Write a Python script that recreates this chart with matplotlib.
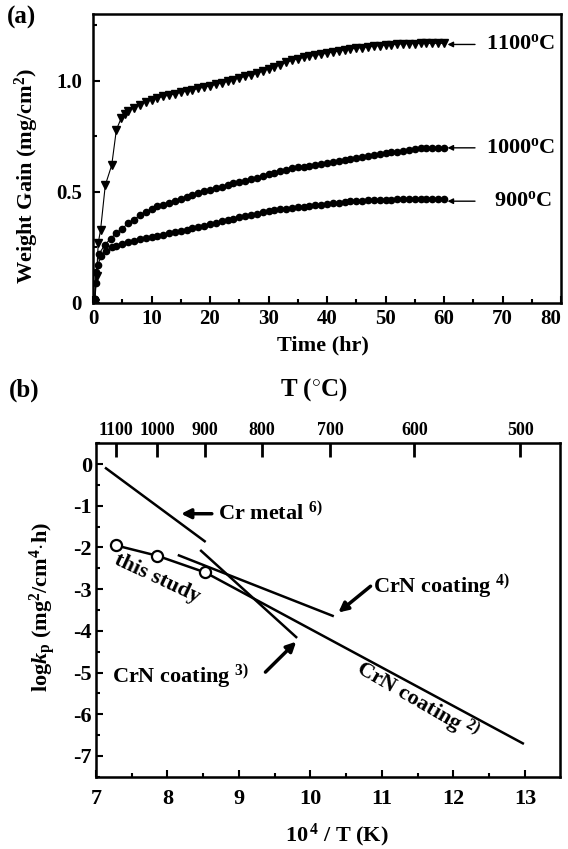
import matplotlib
matplotlib.use("Agg")
import matplotlib.pyplot as plt
from matplotlib.ticker import MultipleLocator, FixedLocator

plt.rcParams['font.family'] = ['Liberation Serif', 'DejaVu Serif']
plt.rcParams['font.weight'] = 'bold'
plt.rcParams['mathtext.fontset'] = 'custom'
plt.rcParams['mathtext.rm'] = 'Liberation Serif:bold'
plt.rcParams['mathtext.it'] = 'Liberation Serif:bold:italic'
plt.rcParams['mathtext.bf'] = 'Liberation Serif:bold'
plt.rcParams['axes.unicode_minus'] = False

# ---------------- Panel (a) data: weight gain vs time ----------------
t_1100 = [0.3, 0.6, 0.9, 1.3, 2.1, 3.2, 4.0, 4.8, 5.4,
          6, 7, 8, 9, 10, 11, 12, 13, 14, 15, 16, 17, 18, 19, 20,
          21, 22, 23, 24, 25, 26, 27, 28, 29, 30, 31, 32, 33, 34, 35,
          36, 37, 38, 39, 40, 41, 42, 43, 44, 45, 46, 47, 48, 49, 50,
          51, 52, 53, 54, 55, 56, 57, 58, 59, 60]
w_1100 = [0.00, 0.12, 0.27, 0.33, 0.53, 0.62, 0.78, 0.83, 0.85,
          0.865, 0.878, 0.892, 0.904, 0.914, 0.922, 0.929, 0.935, 0.941, 0.947,
          0.953, 0.959, 0.965, 0.971, 0.977, 0.983, 0.990, 0.997, 1.005, 1.013,
          1.019, 1.025, 1.033, 1.043, 1.054, 1.062, 1.072, 1.082, 1.091, 1.099,
          1.105, 1.110, 1.114, 1.119, 1.124, 1.129, 1.134, 1.139, 1.143, 1.146,
          1.149, 1.152, 1.155, 1.158, 1.160, 1.162, 1.164, 1.166, 1.167, 1.167,
          1.168, 1.168, 1.168, 1.168, 1.168]

t_1000 = [0.3, 0.5, 1.0, 2, 3, 4, 5, 6, 7, 8, 9, 10, 11, 12, 13, 14, 15,
          16, 17, 18, 19, 20, 21, 22, 23, 24, 25, 26, 27, 28, 29, 30, 31,
          32, 33, 34, 35, 36, 37, 38, 39, 40, 41, 42, 43, 44, 45, 46, 47,
          48, 49, 50, 51, 52, 53, 54, 55, 56, 57, 58, 59, 60]
w_1000 = [0.02, 0.14, 0.22, 0.26, 0.29, 0.315, 0.335, 0.358, 0.375, 0.395,
          0.410, 0.423, 0.435, 0.443, 0.451, 0.459, 0.468, 0.478, 0.487, 0.495,
          0.502, 0.509, 0.516, 0.524, 0.532, 0.538, 0.544, 0.550, 0.556, 0.563,
          0.571, 0.579, 0.587, 0.594, 0.600, 0.606, 0.610, 0.614, 0.618, 0.622,
          0.626, 0.630, 0.634, 0.638, 0.642, 0.646, 0.651, 0.655, 0.660, 0.664,
          0.668, 0.673, 0.677, 0.681, 0.685, 0.689, 0.692, 0.695, 0.697, 0.698,
          0.699, 0.699]

t_900 = [0.3, 0.5, 0.8, 1.4, 2.3, 3.2, 4, 5, 6, 7, 8, 9, 10, 11, 12, 13,
         14, 15, 16, 17, 18, 19, 20, 21, 22, 23, 24, 25, 26, 27, 28, 29, 30,
         31, 32, 33, 34, 35, 36, 37, 38, 39, 40, 41, 42, 43, 44, 45, 46, 47,
         48, 49, 50, 51, 52, 53, 54, 55, 56, 57, 58, 59, 60]
w_900 = [0.02, 0.09, 0.17, 0.21, 0.235, 0.25, 0.258, 0.266, 0.273, 0.280,
         0.287, 0.293, 0.298, 0.303, 0.308, 0.314, 0.320, 0.325, 0.330, 0.336,
         0.342, 0.348, 0.354, 0.360, 0.367, 0.373, 0.379, 0.385, 0.390, 0.396,
         0.402, 0.408, 0.413, 0.418, 0.422, 0.425, 0.428, 0.431, 0.434, 0.437,
         0.440, 0.443, 0.446, 0.449, 0.452, 0.455, 0.458, 0.460, 0.461, 0.462,
         0.463, 0.464, 0.465, 0.465, 0.466, 0.466, 0.466, 0.466, 0.466, 0.466,
         0.466, 0.466, 0.466]

a_labels = ["1100$^{\\mathrm{o}}$C", "1000$^{\\mathrm{o}}$C", "900$^{\\mathrm{o}}$C"]
a_label_y = [1.163, 0.698, 0.458]
a_xticks = [0, 10, 20, 30, 40, 50, 60, 70, 80]

# ---------------- Panel (b) data: Arrhenius plot ----------------
cr_metal_x = [7.14, 8.52]
cr_metal_y = [-0.10, -1.85]
study_x = [7.28, 7.86, 8.53]
study_y = [-1.95, -2.20, -2.60]
crn2_x = [8.53, 12.97]
crn2_y = [-2.60, -6.70]
crn3_x = [8.47, 9.80]
crn3_y = [-2.08, -4.15]
crn4_x = [8.16, 10.31]
crn4_y = [-2.19, -3.64]
top_T = [1100, 1000, 900, 800, 700, 600, 500]

W, H = 568, 849
fig = plt.figure(figsize=(W / 100, H / 100), dpi=100)

def box(l, t, r, b):
    return [l / W, 1 - b / H, (r - l) / W, (b - t) / H]

# ================= Panel (a) =================
ax1 = fig.add_axes(box(93, 14, 561, 303))
ax1.plot(t_1100, w_1100, color='k', lw=0.8, marker='v', ms=6, mfc='k', mec='k')
ax1.plot(t_1000, w_1000, color='k', lw=0.8, marker='o', ms=4.5, mfc='k', mec='k')
ax1.plot(t_900, w_900, color='k', lw=0.8, marker='o', ms=4.5, mfc='k', mec='k')
ax1.set_xlim(0, 80)
ax1.set_ylim(0, 1.3)
ax1.set_xticks(a_xticks)
ax1.set_xticklabels([str(v) for v in a_xticks])
ax1.xaxis.set_minor_locator(MultipleLocator(5))
ax1.set_yticks([0, 0.5, 1.0])
ax1.set_yticklabels(["0", "0.5", "1.0"])
ax1.yaxis.set_minor_locator(MultipleLocator(0.25))
ax1.tick_params(which='both', direction='in', width=1.5)
ax1.tick_params(which='major', length=5)
ax1.tick_params(which='minor', length=3)
ax1.tick_params(axis='x', labelsize=15, pad=4)
ax1.tick_params(axis='y', labelsize=15, pad=8)
ax1.get_xticklabels()[-1].set_horizontalalignment('right')
for sp in ax1.spines.values():
    sp.set_linewidth(1.8)

for lab, yv in zip(a_labels, a_label_y):
    ax1.annotate("", xy=(60.6, yv), xytext=(65.3, yv),
                 arrowprops=dict(arrowstyle='-|>', lw=1.0, color='k',
                                 mutation_scale=8, shrinkA=0, shrinkB=0))
    xt = 67.1 if not lab.startswith("900") else 68.6
    ax1.text(xt, yv, lab, fontsize=16, fontweight='bold', ha='left', va='center')

fig.text(22 / W, 1 - 17 / H, "(a)", fontsize=18, fontweight='bold', ha='center', va='center')
fig.text(27 / W, 1 - 176 / H, "Weight Gain (mg/cm$^{2}$)", fontsize=16,
         fontweight='bold', rotation=90, ha='center', va='center')
fig.text(323 / W, 1 - 345 / H, "Time (hr)", fontsize=16, fontweight='bold',
         ha='center', va='center')

# ================= Panel (b) =================
ax2 = fig.add_axes(box(96, 443.3, 560, 776.7))
ax2.plot(cr_metal_x, cr_metal_y, color='k', lw=1.8)
ax2.plot(crn2_x, crn2_y, color='k', lw=1.8)
ax2.plot(crn3_x, crn3_y, color='k', lw=1.8)
ax2.plot(crn4_x, crn4_y, color='k', lw=1.8)
ax2.plot(study_x, study_y, color='k', lw=1.8, marker='o', ms=8, mfc='white',
         mec='k', mew=1.6, zorder=5)
ax2.set_xlim(7, 13.49)
ax2.set_ylim(-7.5, 0.5)
ax2.xaxis.set_major_locator(MultipleLocator(1))
ax2.xaxis.set_minor_locator(MultipleLocator(0.5))
ax2.yaxis.set_major_locator(MultipleLocator(1))
ax2.yaxis.set_minor_locator(MultipleLocator(0.5))
ax2.tick_params(which='both', direction='in', width=1.5)
ax2.tick_params(which='major', length=5)
ax2.tick_params(which='minor', length=3)
ax2.tick_params(axis='x', labelsize=16, pad=9)
ax2.tick_params(axis='y', labelsize=16, pad=3)
for sp in ax2.spines.values():
    sp.set_linewidth(1.8)

axt = ax2.twiny()
axt.set_xlim(ax2.get_xlim())
axt.xaxis.set_major_locator(FixedLocator([1e4 / (T + 273.15) for T in top_T]))
axt.set_xticklabels([str(T) for T in top_T])
axt.xaxis.set_minor_locator(FixedLocator([]))
axt.tick_params(axis='x', direction='in', length=10, width=2, labelsize=13, pad=3)

# annotations
ax2.annotate("", xy=(8.19, -1.19), xytext=(8.62, -1.19),
             arrowprops=dict(arrowstyle='-|>', lw=2.5, color='k',
                             mutation_scale=14, shrinkA=0, shrinkB=0))
ax2.text(8.70, -1.19, "Cr metal $^{6)}$", fontsize=16, fontweight='bold',
         ha='left', va='center')

ax2.annotate("", xy=(10.39, -3.56), xytext=(10.84, -2.93),
             arrowprops=dict(arrowstyle='-|>', lw=2.5, color='k',
                             mutation_scale=14, shrinkA=0, shrinkB=0))
ax2.text(10.88, -2.96, "CrN coating $^{4)}$", fontsize=16, fontweight='bold',
         ha='left', va='center')

ax2.annotate("", xy=(9.80, -4.26), xytext=(9.37, -4.99),
             arrowprops=dict(arrowstyle='-|>', lw=2.5, color='k',
                             mutation_scale=14, shrinkA=0, shrinkB=0))
ax2.text(7.22, -5.11, "CrN coating $^{3)}$", fontsize=16, fontweight='bold',
         ha='left', va='center')

ax2.text(11.48, -5.71, "CrN coating $^{2)}$", fontsize=16, fontweight='bold',
         ha='center', va='center', rotation=-30, rotation_mode='anchor')
ax2.text(7.85, -2.74, "this study", fontsize=16, fontweight='bold',
         ha='center', va='center', rotation=-25, rotation_mode='anchor')

fig.text(24 / W, 1 - 390 / H, "(b)", fontsize=18, fontweight='bold', ha='center', va='center')
fig.text(314 / W, 1 - 390 / H, "T ($^{\\circ}$C)", fontsize=18, fontweight='bold',
         ha='center', va='center')
fig.text(43 / W, 1 - 607 / H, "log$k_{\\mathrm{p}}$ (mg$^{2}$/cm$^{4}$$\\cdot$h)",
         fontsize=16, fontweight='bold', rotation=90, ha='center', va='center')
fig.text(337 / W, 1 - 835 / H, "10$^{\\,4}$ / T (K)", fontsize=16, fontweight='bold',
         ha='center', va='center')

fig.savefig("out.png", dpi=100, facecolor='white')
